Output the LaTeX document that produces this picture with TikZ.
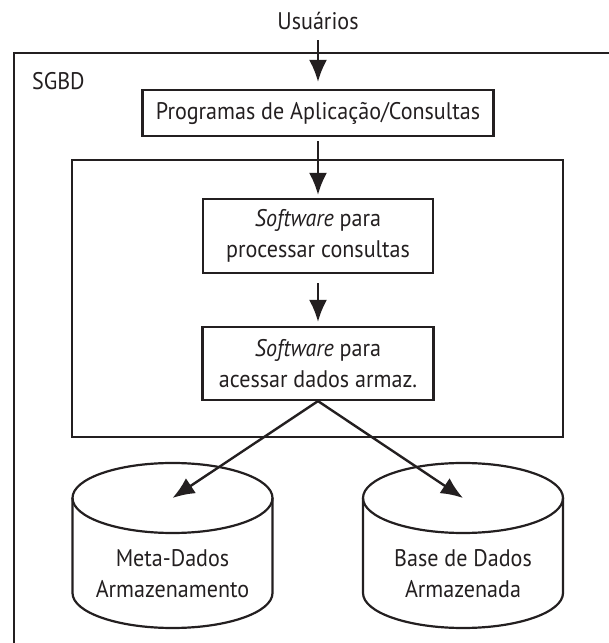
\documentclass[tikz,border=0pt]{standalone}
\usepackage{fontspec}
\setmainfont[FakeStretch=0.92]{PT Sans}
\usetikzlibrary{arrows.meta}
\definecolor{traco}{RGB}{35,31,32}
\begin{document}
\begin{tikzpicture}[x=0.5pt,y=0.5pt,line width=1.1pt,color=traco,font=\fontsize{12}{15.5}\selectfont,
        caixa/.style={draw,inner sep=0pt,align=center},
        seta/.style={-{Latex[length=11pt,width=9pt]},line width=1.2pt}]
        \clip(0,0)rectangle(609,643);
        % SGBD e nucleo
        \draw(14,590)rectangle(640,-40);
        \draw(72,483)rectangle(563,206);
        \node[anchor=base,inner sep=0pt](usu)at(318,613){Usuários};
        \node[anchor=base west,inner sep=0pt](sgbd)at(31,553){SGBD};
        \node[caixa,minimum width=175.5pt,minimum height=23pt](app)at(318,530){Programas de Aplicação/Consultas};
        \node[caixa,minimum width=115pt,minimum height=37pt](proc)at(318,407){\textit{Software} para\\processar consultas};
        \node[caixa,minimum width=115.5pt,minimum height=36.5pt](acesso)at(318,279.5){\textit{Software} para\\acessar dados armaz.};
        % discos
        \foreach \cx/\nome/\texto in {172.5/meta/{Meta-Dados\\Armazenamento},463/base/{Base de Dados\\Armazenada}}{
            \draw(\cx,145)ellipse(100 and 35);
            \draw(\cx-100,145)--(\cx-100,50)arc(180:360:100 and 35)--(\cx+100,145);
            \coordinate(\nome)at(\cx,145);
            \node[align=center,inner sep=0pt](\nome txt)at(\cx,69){\texto};
        }
        \draw[seta,shorten <=4.5pt,shorten >=3.5pt](usu.south)--(app.north);
        \draw[seta,shorten <=2pt,shorten >=1.5pt](app)--(proc);
        \draw[seta,shorten <=4.5pt,shorten >=2pt](proc)--(acesso);
        \draw[seta](acesso.south)--(meta);
        \draw[seta](acesso.south)--(base);
    \end{tikzpicture}
\end{document}
